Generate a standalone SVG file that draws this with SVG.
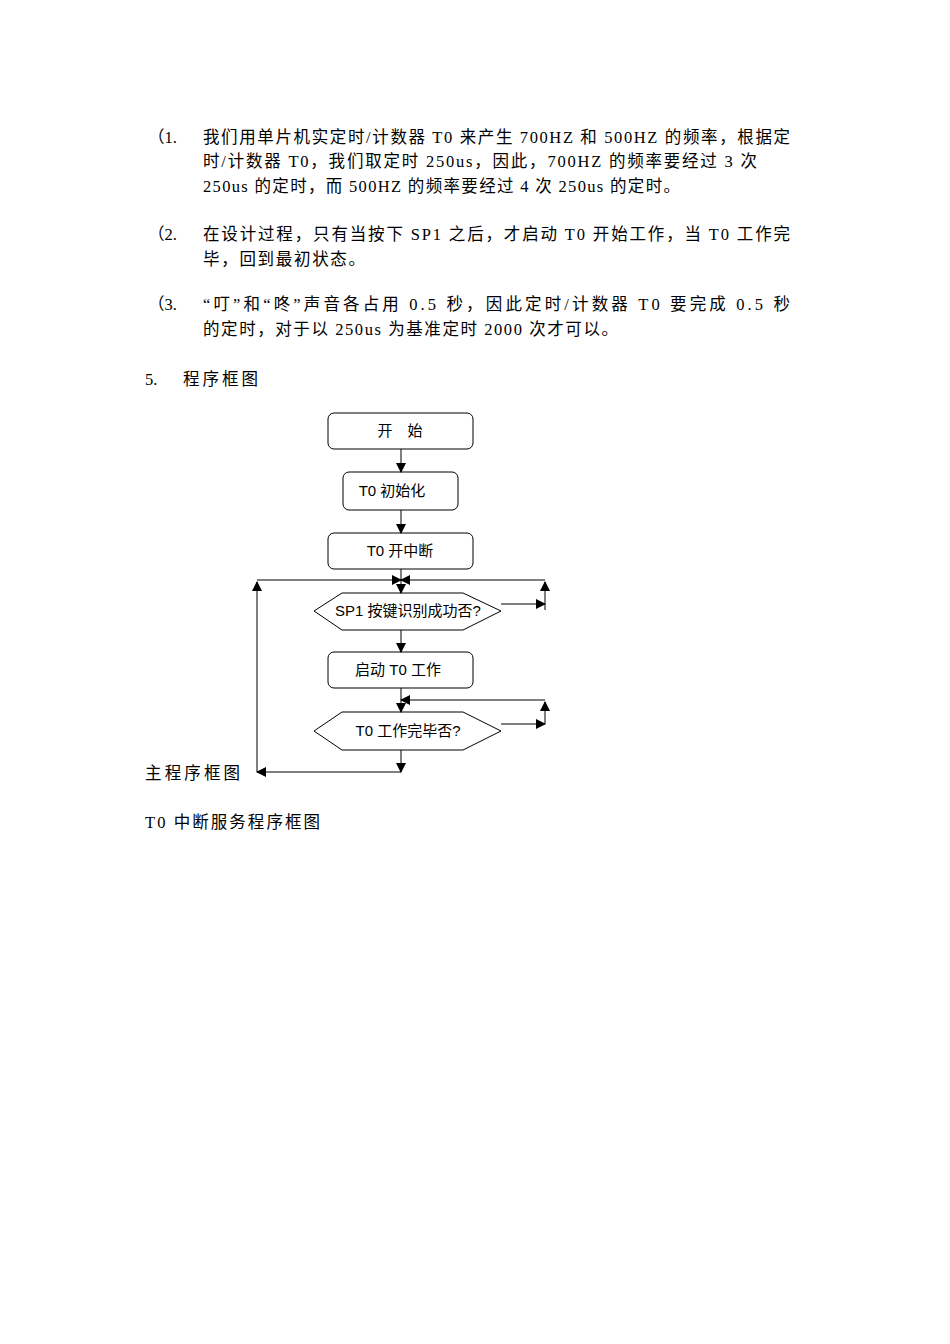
<svg xmlns="http://www.w3.org/2000/svg" width="950" height="1344" viewBox="0 0 950 1344">
<style>
.t{font-family:"Liberation Serif","Noto Sans CJK SC",serif;font-size:16.5px;fill:#000}
.f{font-family:"Liberation Sans","Noto Sans CJK SC",sans-serif;font-size:15px;fill:#000;text-anchor:middle}
.b{fill:#fff;stroke:#000;stroke-width:1}
.c{fill:none;stroke:#000;stroke-width:1}
</style>
<defs><marker id="a" markerWidth="10" markerHeight="10" refX="9" refY="5" orient="auto" markerUnits="userSpaceOnUse"><path d="M0,0 L10,5 L0,10 Z" fill="#000"/></marker></defs>
<rect width="950" height="1344" fill="#fff"/>
<g id="text">
<text class="t" x="148" y="143">（1.</text>
<text class="t" x="203" y="143" textLength="587" lengthAdjust="spacing">我们用单片机实定时/计数器 T0 来产生 700HZ 和 500HZ 的频率，根据定</text>
<text class="t" x="203" y="167" textLength="554" lengthAdjust="spacing">时/计数器 T0，我们取定时 250us，因此，700HZ 的频率要经过 3 次</text>
<text class="t" x="203" y="192" textLength="477" lengthAdjust="spacing">250us 的定时，而 500HZ 的频率要经过 4 次 250us 的定时。</text>
<text class="t" x="148" y="240">（2.</text>
<text class="t" x="203" y="240" textLength="587" lengthAdjust="spacing">在设计过程，只有当按下 SP1 之后，才启动 T0 开始工作，当 T0 工作完</text>
<text class="t" x="203" y="265" textLength="162" lengthAdjust="spacing">毕，回到最初状态。</text>
<text class="t" x="148" y="310">（3.</text>
<text class="t" x="203" y="310" textLength="587" lengthAdjust="spacing">“叮”和“咚”声音各占用 0.5 秒，因此定时/计数器 T0 要完成 0.5 秒</text>
<text class="t" x="203" y="335" textLength="415" lengthAdjust="spacing">的定时，对于以 250us 为基准定时 2000 次才可以。</text>
<text class="t" x="145" y="385">5.</text>
<text class="t" x="183" y="385" textLength="75" lengthAdjust="spacing">程序框图</text>
<text class="t" x="145" y="779" textLength="95" lengthAdjust="spacing">主程序框图</text>
<text class="t" x="145" y="828" textLength="175" lengthAdjust="spacing">T0 中断服务程序框图</text>
</g>
<g id="n1"><rect class="b" x="328" y="413" width="145" height="36" rx="6"/><text class="f" x="400" y="436">开　始</text></g>
<g id="n2"><rect class="b" x="343" y="472" width="115" height="38" rx="6"/><text class="f" x="392" y="496">T0 初始化</text></g>
<g id="n3"><rect class="b" x="328" y="533" width="145" height="36" rx="6"/><text class="f" x="400" y="556">T0 开中断</text></g>
<g id="n4"><polygon class="b" points="314,611 342,593 463,593 501,611 463,630 342,630"/><text class="f" x="408" y="616">SP1 按键识别成功否?</text></g>
<g id="n5"><rect class="b" x="328" y="652" width="145" height="36" rx="6"/><text class="f" x="398" y="675">启动 T0 工作</text></g>
<g id="n6"><polygon class="b" points="314,731 342,712 463,712 501,731 463,750 342,750"/><text class="f" x="408" y="736">T0 工作完毕否?</text></g>
<g id="conn">
<path class="c" d="M401,449 V472" marker-end="url(#a)"/>
<path class="c" d="M401,510 V533" marker-end="url(#a)"/>
<path class="c" d="M401,569 V593" marker-end="url(#a)"/>
<path class="c" d="M257,580 H401" marker-end="url(#a)"/>
<path class="c" d="M545,580 H401" marker-end="url(#a)"/>
<path class="c" d="M501,604 H545" marker-end="url(#a)"/>
<path class="c" d="M545,610 V582" marker-end="url(#a)"/>
<path class="c" d="M401,630 V652" marker-end="url(#a)"/>
<path class="c" d="M401,688 V712" marker-end="url(#a)"/>
<path class="c" d="M545,700 H401" marker-end="url(#a)"/>
<path class="c" d="M501,724 H545" marker-end="url(#a)"/>
<path class="c" d="M545,724 V702" marker-end="url(#a)"/>
<path class="c" d="M401,750 V772" marker-end="url(#a)"/>
<path class="c" d="M401,772 H257" marker-end="url(#a)"/>
<path class="c" d="M257,772 V582" marker-end="url(#a)"/>
</g>
</svg>
